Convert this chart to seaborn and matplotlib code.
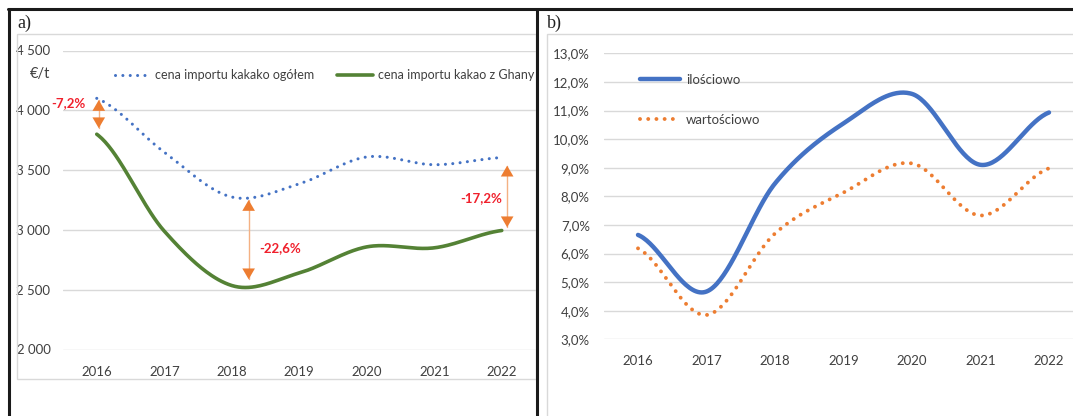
import numpy as np
import pandas as pd
import seaborn as sns
import matplotlib.pyplot as plt
from matplotlib.lines import Line2D
from matplotlib.patches import Rectangle

# Data
years = [2016, 2017, 2018, 2019, 2020, 2021, 2022]
cena_ogolem = [4100, 3650, 3275, 3385, 3610, 3545, 3605]
cena_ghana = [3800, 2990, 2535, 2640, 2858, 2850, 2995]
ilosciowo = [6.65, 4.67, 8.45, 10.55, 11.58, 9.1, 10.93]
wartosciowo = [6.18, 3.85, 6.7, 8.13, 9.15, 7.33, 8.98]

diff_labels = ['-7,2%', '-22,6%', '-17,2%']
diff_x = [2016.03, 2018.25, 2022.08]
diff_top = [4086, 3250, 3537]
diff_bottom = [3850, 2587, 3022]

W, H = 1073, 416
BLUE = '#4472C4'
GREEN = '#548235'
ORANGE = '#ED7D31'
LIGHT_ORANGE = '#F4B183'
RED = '#F0202C'
GRID = '#D9D9D9'
TXT = '#404040'


def smooth(x, y, n=40):
    # Excel-like smoothed line (Catmull-Rom / cubic Hermite)
    x = np.asarray(x, float)
    y = np.asarray(y, float)
    m = np.zeros_like(y)
    m[1:-1] = (y[2:] - y[:-2]) / 2
    m[0] = (y[1] - y[0]) / 2
    m[-1] = (y[-1] - y[-2]) / 2
    xs, ys = [], []
    for i in range(len(x) - 1):
        t = np.linspace(0, 1, n, endpoint=False)
        h00 = 2*t**3 - 3*t**2 + 1
        h10 = t**3 - 2*t**2 + t
        h01 = -2*t**3 + 3*t**2
        h11 = t**3 - t**2
        xs.append(x[i] + t*(x[i+1] - x[i]))
        ys.append(h00*y[i] + h10*m[i] + h01*y[i+1] + h11*m[i+1])
    xs.append([x[-1]])
    ys.append([y[-1]])
    return pd.DataFrame({'x': np.concatenate(xs), 'y': np.concatenate(ys)})


def px_axes(fig, x0, x1, y0, y1):
    return fig.add_axes([x0 / W, 1 - y1 / H, (x1 - x0) / W, (y1 - y0) / H])


sns.set_theme(style='white')
plt.rcParams['font.family'] = ['Lato', 'DejaVu Sans']

fig = plt.figure(figsize=(W / 100, H / 100), dpi=100)

# frame and chart-area boxes
for xs_, ys_ in [([8, W], [9, 9]), ([9, 9], [9, H]), ([537, 537], [9, H])]:
    fig.add_artist(Line2D([v / W for v in xs_], [1 - v / H for v in ys_],
                          color='#1a1a1a', lw=2.2))
fig.add_artist(Rectangle((17.3 / W, 1 - 379 / H), (536 - 17.3) / W, (379 - 34.3) / H,
                         fill=False, ec=GRID, lw=1))
fig.add_artist(Rectangle((546.7 / W, -0.01), 0.6, 1 - 34.3 / H + 0.01,
                         fill=False, ec=GRID, lw=1))
fig.text(17 / W, 1 - 23 / H, 'a)', family='Liberation Serif', fontsize=13,
         ha='left', va='center', color='#222222')
fig.text(547 / W, 1 - 23 / H, 'b)', family='Liberation Serif', fontsize=13,
         ha='left', va='center', color='#222222')

# ---- a) ----
ax1 = px_axes(fig, 63, 535.5, 50.5, 349.5)
d1 = smooth(years, cena_ogolem)
d2 = smooth(years, cena_ghana)
sns.lineplot(data=d1, x='x', y='y', ax=ax1, color=BLUE, lw=2.2, sort=False,
             estimator=None, linestyle=(0, (0.01, 2.4)), dash_capstyle='round',
             label='cena importu kakako ogółem')
sns.lineplot(data=d2, x='x', y='y', ax=ax1, color=GREEN, lw=2.6, sort=False,
             estimator=None, solid_capstyle='round', label='cena importu kakao z Ghany')
ax1.set_xlim(2015.5, 2022.5)
ax1.set_ylim(2000, 4500)
ax1.set_yticks([2000, 2500, 3000, 3500, 4000, 4500])
ax1.set_yticklabels([f'{v:,}'.replace(',', ' ') for v in [2000, 2500, 3000, 3500, 4000, 4500]])
ax1.set_xticks(years)
ax1.set_xticklabels([str(y) for y in years])
ax1.grid(axis='y', color=GRID, lw=1)
ax1.set_axisbelow(True)
ax1.tick_params(axis='y', length=0, pad=9, labelsize=9.5, labelcolor=TXT)
ax1.tick_params(axis='x', length=0, pad=12, labelsize=9.5, labelcolor=TXT)
ax1.set_xlabel('')
ax1.set_ylabel('')
for s in ax1.spines.values():
    s.set_visible(False)
ax1.patch.set_alpha(0)

for x, yt, yb in zip(diff_x, diff_top, diff_bottom):
    # light shaft, solid heads
    ax1.plot([x, x], [yt, yb], color=LIGHT_ORANGE, lw=1)
    ax1.annotate('', xy=(x, yt), xytext=(x, yb),
                 arrowprops=dict(arrowstyle='<|-|>,head_length=0.6,head_width=0.35',
                                 color=ORANGE, lw=0, mutation_scale=13,
                                 shrinkA=0, shrinkB=0))
ax1.text(2015.83, 4064, diff_labels[0], color=RED, fontsize=9.5,
         fontweight='bold', ha='right', va='center')
ax1.text(2018.41, 2851, diff_labels[1], color=RED, fontsize=9.5,
         fontweight='bold', ha='left', va='center')
ax1.text(2022.0, 3264, diff_labels[2], color=RED, fontsize=9.5,
         fontweight='bold', ha='right', va='center')

fig.text(50 / W, 1 - 74 / H, '€/t', fontsize=10.5, ha='right', va='center', color=TXT)
leg1 = ax1.legend(loc='center left', bbox_to_anchor=((114.7 - 63) / 472.5, (349.5 - 75.3) / 299),
                  ncol=2, frameon=False, fontsize=9, handlelength=2.9, handletextpad=0.35,
                  columnspacing=1.8, borderpad=0, borderaxespad=0)
for t in leg1.get_texts():
    t.set_color(TXT)

# ---- b) ----
ax2 = px_axes(fig, 603.75, 603.75 + 479.5, 53.3, 339.3)
d3 = smooth(years, ilosciowo)
d4 = smooth(years, wartosciowo)
sns.lineplot(data=d3, x='x', y='y', ax=ax2, color=BLUE, lw=3.2, sort=False,
             estimator=None, solid_capstyle='round', label='ilościowo')
sns.lineplot(data=d4, x='x', y='y', ax=ax2, color=ORANGE, lw=2.8, sort=False,
             estimator=None, linestyle=(0, (0.01, 2.1)), dash_capstyle='round',
             label='wartościowo')
ax2.set_xlim(2015.5, 2022.5)
ax2.set_ylim(3, 13)
yt2 = list(range(3, 14))
ax2.set_yticks(yt2)
ax2.set_yticklabels([f'{v:.1f}%'.replace('.', ',') for v in yt2])
ax2.set_xticks(years)
ax2.set_xticklabels([str(y) for y in years])
ax2.grid(axis='y', color=GRID, lw=1)
ax2.set_axisbelow(True)
ax2.tick_params(axis='y', length=0, pad=10, labelsize=9.5, labelcolor=TXT)
ax2.tick_params(axis='x', length=0, pad=11, labelsize=9.5, labelcolor=TXT)
ax2.set_xlabel('')
ax2.set_ylabel('')
for s in ax2.spines.values():
    s.set_visible(False)
ax2.patch.set_alpha(0)
leg2 = ax2.legend(loc='upper left', bbox_to_anchor=((640 - 603.75) / 479.5, (339.3 - 74) / 286),
                  frameon=False, fontsize=9.5, handlelength=3.0, handletextpad=0.5,
                  labelspacing=2.1, borderpad=0, borderaxespad=0)
for t in leg2.get_texts():
    t.set_color(TXT)

fig.savefig('out.png', dpi=100)
